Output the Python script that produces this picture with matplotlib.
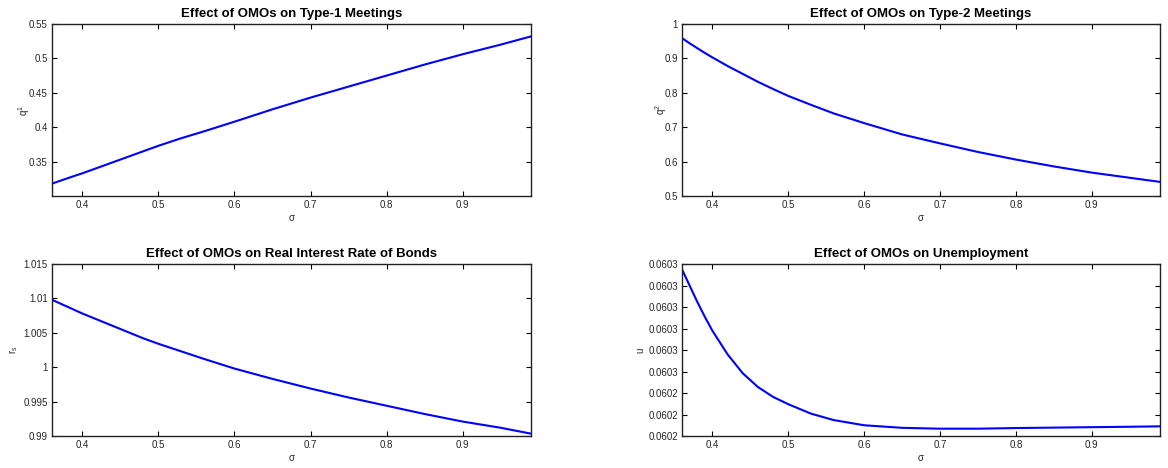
import matplotlib
matplotlib.use("Agg")
import matplotlib.pyplot as plt

plt.rcParams['font.family'] = ['Liberation Sans', 'DejaVu Sans']

# sigma grid (read points)
sigma = [0.36, 0.37, 0.38, 0.39, 0.40, 0.42, 0.44, 0.46, 0.48, 0.50, 0.53,
         0.56, 0.60, 0.65, 0.70, 0.75, 0.80, 0.85, 0.90, 0.95, 0.99]

q1 = [0.318, 0.3218, 0.3256, 0.3294, 0.333, 0.341, 0.349, 0.357, 0.365, 0.373, 0.384,
      0.394, 0.408, 0.426, 0.443, 0.459, 0.475, 0.491, 0.506, 0.520, 0.532]
q2 = [0.959, 0.944, 0.930, 0.916, 0.903, 0.878, 0.855, 0.832, 0.811, 0.791, 0.765,
      0.740, 0.712, 0.679, 0.653, 0.628, 0.606, 0.586, 0.568, 0.553, 0.541]
rs = [1.0098, 1.0093, 1.0088, 1.0083, 1.0078, 1.0069, 1.0060, 1.0051, 1.0042, 1.0034, 1.0023,
      1.0012, 0.9998, 0.9983, 0.9969, 0.9956, 0.9944, 0.9932, 0.9921, 0.9912, 0.99034]
u = [0.0602975, 0.06029, 0.0602825, 0.0602755, 0.060269, 0.060258, 0.0602492, 0.0602428,
     0.0602382, 0.0602348, 0.0602304, 0.0602274, 0.060225, 0.0602238, 0.0602234, 0.0602234,
     0.0602237, 0.0602239, 0.0602241, 0.0602243, 0.0602245]

x_ticks = [0.4, 0.5, 0.6, 0.7, 0.8, 0.9]
x_ticklabels = ['0.4', '0.5', '0.6', '0.7', '0.8', '0.9']
q1_ticks = [0.35, 0.4, 0.45, 0.5, 0.55]
q1_ticklabels = ['0.35', '0.4', '0.45', '0.5', '0.55']
q2_ticks = [0.5, 0.6, 0.7, 0.8, 0.9, 1.0]
q2_ticklabels = ['0.5', '0.6', '0.7', '0.8', '0.9', '1']
rs_ticks = [0.99, 0.995, 1.0, 1.005, 1.01, 1.015]
rs_ticklabels = ['0.99', '0.995', '1', '1.005', '1.01', '1.015']
u_ticks = [0.06022, 0.06023, 0.06024, 0.06025, 0.06026, 0.06027, 0.06028, 0.06029, 0.06030]
u_ticklabels = ['0.0602', '0.0602', '0.0602', '0.0603', '0.0603', '0.0603', '0.0603', '0.0603', '0.0603']

titles = ['Effect of OMOs on Type-1 Meetings',
          'Effect of OMOs on Type-2 Meetings',
          'Effect of OMOs on Real Interest Rate of Bonds',
          'Effect of OMOs on Unemployment']
ylabels = [r'q$^{\mathregular{1}}$', r'q$^{\mathregular{2}}$', r'r$_{\mathregular{s}}$', 'u']

W, H = 1168, 468
fig = plt.figure(figsize=(W / 100, H / 100), dpi=100)

boxes = [(52, 24, 531, 196), (682, 24, 1160, 196), (52, 264, 531, 436), (682, 264, 1160, 436)]
label_offsets = [20, 13, 32, 37]
series = [q1, q2, rs, u]
yticks = [q1_ticks, q2_ticks, rs_ticks, u_ticks]
yticklabels = [q1_ticklabels, q2_ticklabels, rs_ticklabels, u_ticklabels]
ylims = [(0.3, 0.55), (0.5, 1.0), (0.99, 1.015), (u_ticks[0], u_ticks[-1])]

for i, (x0, y0, x1, y1) in enumerate(boxes):
    ax = fig.add_axes([x0 / W, 1 - y1 / H, (x1 - x0) / W, (y1 - y0) / H])
    ax.plot(sigma, series[i], color='#0000ff', lw=1.5)
    ax.set_xlim(0.36, 0.99)
    ax.set_ylim(*ylims[i])
    ax.set_xticks(x_ticks)
    ax.set_xticklabels(x_ticklabels)
    ax.set_yticks(yticks[i])
    ax.set_yticklabels(yticklabels[i])
    ax.tick_params(direction='in', length=3.5, width=0.8, labelsize=7, pad=3,
                   top=True, right=True, colors='black', labelcolor='#262626')
    for s in ax.spines.values():
        s.set_linewidth(1.0)
        s.set_color('#222222')
    ax.set_title(titles[i], fontsize=9.5, fontweight='bold', pad=5)
    ax.set_xlabel('σ', fontsize=7, labelpad=2, color='#262626')
    ax.set_ylabel(ylabels[i], fontsize=7, color='#262626')
    ax.yaxis.set_label_coords(-label_offsets[i] / (x1 - x0), 0.5)

fig.savefig('out.png', dpi=100)
